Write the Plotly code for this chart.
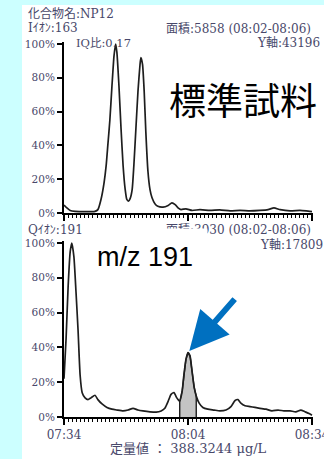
import plotly.graph_objects as go

W, H = 324, 459

# Standard sample, ion 163 (time in seconds, relative intensity %)
std_t = [454.0, 454.7, 455.5, 456.7, 459.1, 461.5, 462.2, 462.95, 463.7, 464.2,
         464.6, 465.1, 465.6, 466.1, 466.5, 466.8, 467.3, 467.8, 468.3, 468.8,
         469.2, 469.6, 470.0, 470.5, 470.9, 471.4, 471.9, 472.4, 472.6, 473.0,
         473.4, 473.8, 474.3, 474.8, 475.3, 476.0, 476.7, 477.95, 479.2, 480.1,
         480.9, 481.6, 482.3, 483.5, 485.0, 486.9, 489.3, 491.7, 494.2, 496.6,
         499.0, 501.4, 503.4, 504.8, 506.3, 508.7, 511.1, 512.6, 514.0]
std_pct = [4.7, 3.0, 1.5, 1.0, 0.8, 1.0, 2.0, 8.0, 18.0, 28.0,
           40.0, 55.0, 75.0, 93.0, 100.0, 95.0, 75.0, 50.0, 28.0, 14.0,
           8.0, 7.0, 8.5, 14.0, 28.0, 50.0, 72.0, 88.0, 92.0, 88.0,
           72.0, 48.0, 25.0, 14.0, 9.0, 5.5, 4.0, 3.5, 4.5, 6.0,
           5.0, 3.0, 2.0, 2.5, 1.5, 2.0, 1.5, 1.8, 1.2, 1.5,
           1.2, 1.5, 2.0, 3.0, 2.0, 1.3, 1.5, 1.2, 0.8]

# Sample, quantifier ion m/z 191
smp_t = [454.0, 454.5, 455.0, 455.5, 455.9, 456.4, 456.9, 457.4, 457.9, 458.4,
         459.1, 459.8, 460.5, 461.5, 462.2, 463.2, 464.4, 465.6, 466.8, 468.3,
         469.5, 470.7, 471.9, 473.1, 474.8, 476.3, 477.5, 478.4, 479.2, 479.9,
         480.6, 481.3, 482.0, 482.6, 483.0, 483.5, 484.0, 484.5, 485.0, 485.5,
         486.0, 486.7, 487.6, 488.8, 490.3, 491.7, 493.2, 494.4, 495.4, 496.1,
         496.8, 497.8, 499.0, 500.2, 501.4, 502.9, 504.3, 505.8, 507.2, 508.7,
         510.1, 511.3, 512.3, 513.3, 514.0]
smp_pct = [22.0, 45.0, 75.0, 95.0, 100.0, 92.0, 72.0, 50.0, 24.0, 14.0,
           11.0, 10.0, 11.0, 12.5, 10.0, 7.5, 5.5, 4.5, 4.0, 3.5,
           4.0, 5.0, 4.0, 3.5, 3.0, 2.8, 3.5, 5.0, 9.0, 13.0,
           14.0, 11.0, 9.0, 15.0, 24.0, 33.0, 37.0, 35.0, 26.0, 17.0,
           12.0, 8.0, 5.5, 4.5, 4.0, 3.5, 4.0, 6.0, 9.5, 10.0,
           8.0, 6.5, 6.0, 5.5, 5.0, 4.5, 3.5, 4.0, 3.5, 3.5,
           3.0, 4.0, 3.0, 2.0, 1.0]

win_start, win_end = 482.0, 486.0          # 08:02-08:06 integration window
x_tick_s = [454, 484, 514]
x_tick_txt = ["07:34", "08:04", "08:34"]
y_tick_vals = [0, 20, 40, 60, 80, 100]
y_tick_txt = ["0%", "20%", "40%", "60%", "80%", "100%"]

TXT = "#48486a"
SERIF = "DejaVu Serif, Noto Sans CJK JP, serif"


def px(x):
    return x / W


def py(y):
    return 1 - y / H


fig = go.Figure()

fig.add_trace(go.Scatter(x=std_t, y=std_pct, mode="lines",
                         line=dict(color="#1e1e1e", width=1.7, shape="spline", smoothing=0.5),
                         xaxis="x", yaxis="y", showlegend=False))

# shaded integrated area
area_t = [win_start] + [t for t in smp_t if win_start <= t <= win_end] + [win_end]
area_v = [0] + [v for t, v in zip(smp_t, smp_pct) if win_start <= t <= win_end] + [0]
fig.add_trace(go.Scatter(x=area_t, y=area_v, mode="lines", fill="toself",
                         fillcolor="#c4c4c4", line=dict(color="#1e1e1e", width=1.4),
                         xaxis="x2", yaxis="y2", showlegend=False))
fig.add_trace(go.Scatter(x=smp_t, y=smp_pct, mode="lines",
                         line=dict(color="#1e1e1e", width=1.7, shape="spline", smoothing=0.5),
                         xaxis="x2", yaxis="y2", showlegend=False))

x_dom = [px(64), px(313)]
x_range = [454, 514.25]


def xaxis(labels, anchor):
    return dict(domain=x_dom, range=x_range, anchor=anchor, automargin=False,
                showgrid=False, zeroline=False,
                showline=True, linecolor="black", linewidth=2,
                ticks="outside", tickvals=x_tick_s, ticktext=x_tick_txt, ticklen=6,
                tickwidth=1.5, tickcolor="black",
                minor=dict(ticks="outside", dtick=1, tick0=454, ticklen=3, tickwidth=1,
                           tickcolor="black"),
                showticklabels=labels, ticklabeloverflow="allow",
                tickfont=dict(family=SERIF, size=12, color=TXT))


def yaxis(y0, y100, anchor):
    step = (y0 - y100) / 100
    return dict(domain=[py(y0), py(y100 - step)], range=[0, 101], anchor=anchor,
                automargin=False, showgrid=False, zeroline=False, showline=True,
                linecolor="black", linewidth=2, ticks="outside", tickvals=y_tick_vals,
                ticktext=y_tick_txt, ticklen=5, tickwidth=1.5, tickcolor="black",
                tickfont=dict(family=SERIF, size=10.5, color=TXT))


fig.update_layout(
    width=W, height=H, margin=dict(l=0, r=0, t=0, b=0),
    paper_bgcolor="#ccffff", plot_bgcolor="rgba(0,0,0,0)",
    xaxis=xaxis(False, "y"), yaxis=yaxis(213, 44, "x"),
    xaxis2=xaxis(True, "y2"), yaxis2=yaxis(417, 243, "x2"),
    shapes=[dict(type="rect", xref="paper", yref="paper", x0=px(22), x1=1.0,
                 y0=0, y1=py(5), fillcolor="white", line=dict(width=0), layer="below")],
)


def label(text, x, y, size=12, anchor="left", family=SERIF, color=TXT, **kw):
    fig.add_annotation(text=text, x=px(x), y=py(y), xref="paper", yref="paper",
                       xanchor=anchor, yanchor="middle", showarrow=False,
                       font=dict(family=family, size=size, color=color), **kw)


label("化合物名:NP12", 26, 14)
label("Iｲｵﾝ:163", 26, 28)
label("面積:5858 (08:02-08:06)", 164, 28)
label("IQ比:0.17", 74, 43, size=11.5)
label("Y軸:43196", 255, 43)

label("Qｲｵﾝ:191", 26, 230)
label("面積:3930 (08:02-08:06)", 164, 230)
label("Y軸:17809", 258, 245)
label("定量値 ： 388.3244 μg/L", 188, 448, size=13, anchor="center")

label("標準試料", 167, 99, size=37, family="Noto Sans CJK JP", color="black")
label("m/z 191", 145, 257, size=27, anchor="center", family="Liberation Sans, Arial",
      color="black", bgcolor="white", width=124, height=56, borderpad=0)

fig.add_annotation(x=484, y=37, xref="x2", yref="y2", text="", showarrow=True,
                   ax=48, ay=-55, arrowcolor="#0070c0", arrowwidth=6, arrowhead=2,
                   arrowsize=1.3, standoff=2)

fig.write_html("out.html")
